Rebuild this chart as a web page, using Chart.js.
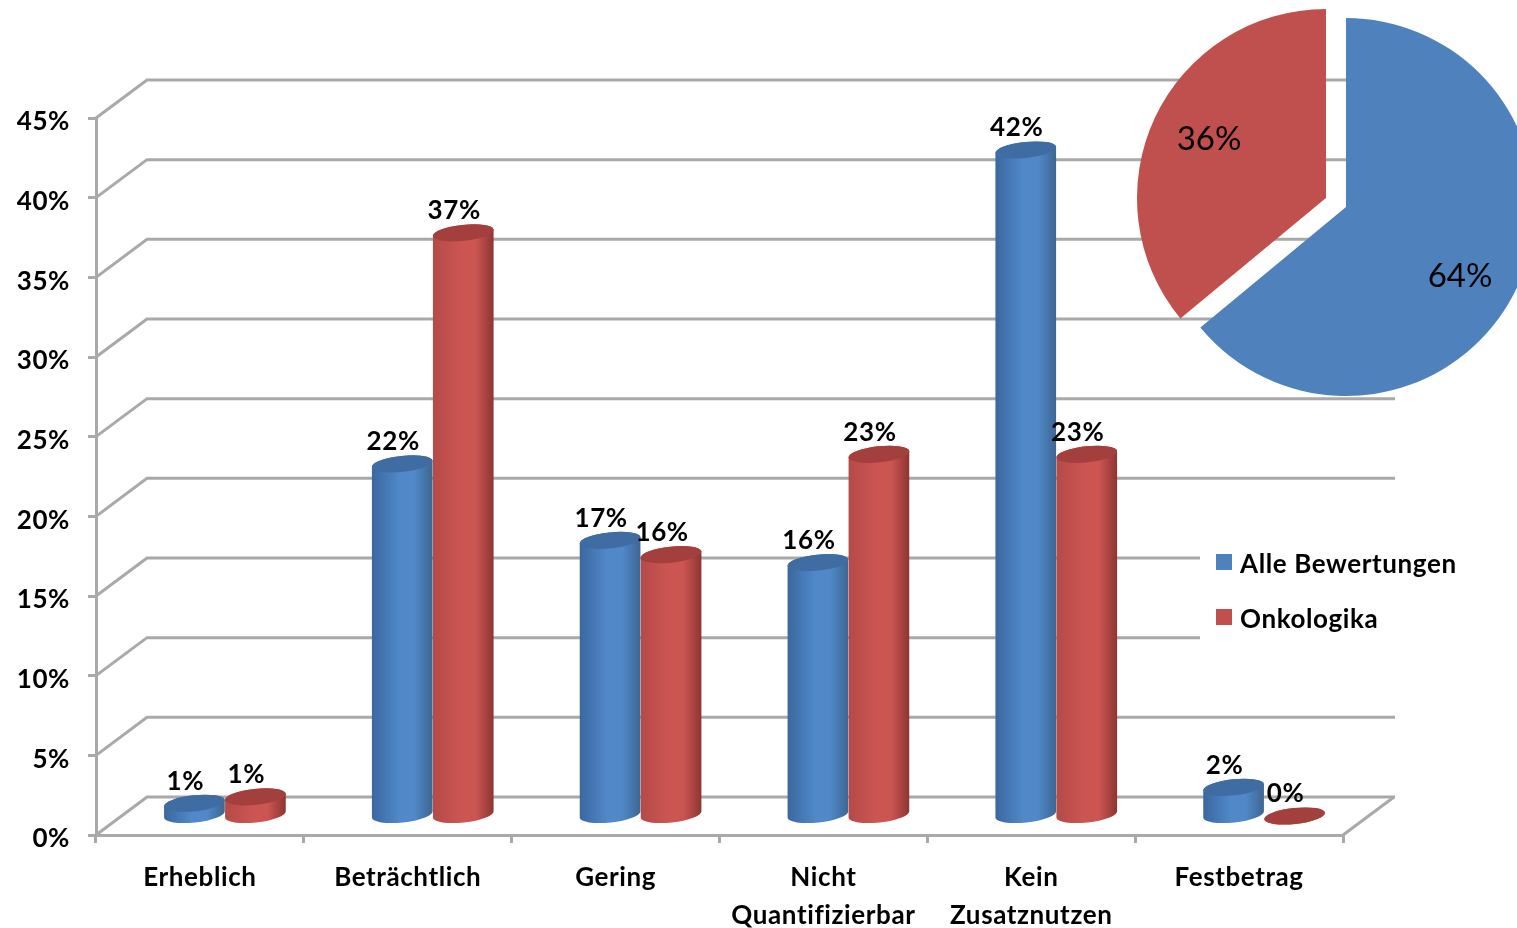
<!DOCTYPE html>
<html>
<head>
<meta charset="utf-8">
<script src="https://cdn.jsdelivr.net/npm/chart.js@4/dist/chart.umd.min.js"></script>
<style>
  html, body { margin: 0; padding: 0; background: #fff; overflow: hidden; }
  #wrap { position: relative; width: 1517px; height: 928px; overflow: hidden; filter: blur(0.5px); }
  #barChart { position: absolute; left: 0; top: 0; }
  #pieChart { position: absolute; left: 1120px; top: 0; }
</style>
</head>
<body>
<div id="wrap">
  <canvas id="barChart" width="1517" height="928"></canvas>
  <canvas id="pieChart" width="452" height="414"></canvas>
</div>
<script>
  // data block
  const categories = ['Erheblich', 'Beträchtlich', 'Gering', ['Nicht', 'Quantifizierbar'], ['Kein', 'Zusatznutzen'], 'Festbetrag'];
  const alleBewertungen = [0.8, 22.1, 17.3, 15.9, 41.8, 1.8];
  const onkologika = [1.2, 36.6, 16.4, 22.7, 22.7, 0];
  const seriesNames = ['Alle Bewertungen', 'Onkologika'];
  const pieLabels = ['Alle Bewertungen', 'Onkologika'];
  const pieValues = [64, 36];

  const BLUE = '#4f81bd';
  const RED = '#c0504d';
  const GRID = '#a9a9a9';
  const FONT = 'Lato, Carlito, sans-serif';

  // fake 3d depth of the old office chart
  const depth = { x: 51, y: -38 };
  const barShift = { x: 25, y: -19 };
  const capRy = 8;
  const capTilt = -6 * Math.PI / 180;

  const shades = {
    0: { left: '#3b679e', mid: '#5088c8', right: '#3d6692', cap: '#3f6ca3' },
    1: { left: '#b44a47', mid: '#cc5552', right: '#8c3533', cap: '#a33f3c' }
  };

  // back wall and floor lines
  const wallPlugin = {
    id: 'wall',
    beforeDatasetsDraw(chart) {
      const ctx = chart.ctx;
      const y = chart.scales.y;
      const x = chart.scales.x;
      ctx.save();
      ctx.strokeStyle = GRID;
      ctx.lineWidth = 3;
      y.ticks.forEach(function (t) {
        const py = y.getPixelForValue(t.value);
        ctx.beginPath();
        ctx.moveTo(x.left, py);
        ctx.lineTo(x.left + depth.x, py + depth.y);
        ctx.lineTo(x.right + depth.x + 1, py + depth.y);
        ctx.stroke();
      });
      const floor = y.getPixelForValue(0);
      ctx.beginPath();
      ctx.moveTo(x.right, floor);
      ctx.lineTo(x.right + depth.x, floor + depth.y);
      ctx.stroke();
      ctx.restore();
    }
  };

  // draws the bars as cylinders from the bar elements
  function drawCylinder(ctx, bar, shade) {
    const cx = bar.x + barShift.x;
    const top = bar.y + barShift.y;
    const bottom = bar.base + barShift.y;
    const rx = bar.width / 2;
    const grad = ctx.createLinearGradient(cx - rx, 0, cx + rx, 0);
    grad.addColorStop(0, shade.left);
    grad.addColorStop(0.45, shade.mid);
    grad.addColorStop(0.7, shade.mid);
    grad.addColorStop(1, shade.right);
    ctx.fillStyle = grad;
    ctx.beginPath();
    ctx.ellipse(cx, bottom, rx, capRy, capTilt, Math.PI, 0, true);
    ctx.ellipse(cx, top, rx, capRy, capTilt, 0, Math.PI, true);
    ctx.closePath();
    ctx.fill();
    ctx.fillStyle = shade.cap;
    ctx.beginPath();
    ctx.ellipse(cx, top, rx, capRy, capTilt, 0, Math.PI * 2);
    ctx.fill();
  }

  const cylinderPlugin = {
    id: 'cylinder',
    // the default bars are skipped, red has to lie over blue so all is drawn below
    beforeDatasetDraw() {
      return false;
    },
    afterDatasetsDraw(chart) {
      const ctx = chart.ctx;
      ctx.save();
      chart.data.datasets.forEach(function (ds, i) {
        chart.getDatasetMeta(i).data.forEach(function (bar) {
          drawCylinder(ctx, bar, shades[i]);
        });
      });

      ctx.font = 'bold 26px ' + FONT;
      ctx.fillStyle = '#000';
      ctx.textAlign = 'center';
      ctx.textBaseline = 'middle';
      chart.data.datasets.forEach(function (ds, i) {
        chart.getDatasetMeta(i).data.forEach(function (bar, j) {
          const label = Math.round(ds.data[j]) + '%';
          ctx.fillText(label, bar.x + barShift.x - 9, bar.y + barShift.y - 22);
        });
      });

      // legend, white box hides the wall lines behind it
      ctx.fillStyle = '#fff';
      ctx.fillRect(1200, 548, 317, 100);
      ctx.textAlign = 'left';
      chart.data.datasets.forEach(function (ds, i) {
        const rowY = 565 + i * 55;
        ctx.fillStyle = ds.backgroundColor;
        ctx.fillRect(1216, rowY - 11, 16, 16);
        ctx.fillStyle = '#000';
        ctx.fillText(ds.label, 1240, rowY);
      });
      ctx.restore();
    }
  };

  const barChart = new Chart(document.getElementById('barChart'), {
    type: 'bar',
    data: {
      labels: categories,
      datasets: [
        { label: seriesNames[0], data: alleBewertungen, backgroundColor: BLUE },
        { label: seriesNames[1], data: onkologika, backgroundColor: RED }
      ]
    },
    options: {
      responsive: false,
      animation: false,
      categoryPercentage: 0.587,
      barPercentage: 1,
      layout: { padding: { top: 118, right: 174, left: 0, bottom: 0 } },
      plugins: { legend: { display: false }, tooltip: { enabled: false } },
      scales: {
        x: {
          afterFit(s) { s.height = 93; },
          grid: { drawOnChartArea: false, color: GRID, lineWidth: 3, tickLength: 8 },
          border: { color: GRID, width: 3 },
          ticks: {
            color: '#000',
            padding: 16,
            autoSkip: false,
            maxRotation: 0,
            font: { family: FONT, size: 26, weight: 'bold', lineHeight: 1.46 }
          }
        },
        y: {
          min: 0,
          max: 45,
          afterFit(s) { s.width = 96; },
          grid: { drawOnChartArea: false, color: GRID, lineWidth: 3, tickLength: 8 },
          border: { color: GRID, width: 3 },
          ticks: {
            stepSize: 5,
            color: '#000',
            padding: 18,
            labelOffset: 4,
            font: { family: FONT, size: 26, weight: 'bold' },
            callback: function (v) { return v + '%'; }
          }
        }
      }
    },
    plugins: [wallPlugin, cylinderPlugin]
  });
  // text of the reference runs a bit wider than Lato
  barChart.ctx.letterSpacing = '0.6px';
  barChart.update();

  // slices are pulled apart by hand, chart.js offset also grows the radius
  const explode = [{ x: 0, y: 0 }, { x: -20, y: -9 }];
  const pieLabelPos = [{ x: 114, y: 68 }, { x: -117, y: -60 }];

  const explodePlugin = {
    id: 'explode',
    beforeDatasetDraw(chart, args) {
      const ctx = chart.ctx;
      args.meta.data.forEach(function (arc, i) {
        ctx.save();
        ctx.translate(explode[i].x, explode[i].y);
        arc.draw(ctx, chart.chartArea);
        ctx.restore();
      });
      return false;
    },
    afterDatasetsDraw(chart) {
      const ctx = chart.ctx;
      ctx.save();
      ctx.font = '33px ' + FONT;
      ctx.fillStyle = '#000';
      ctx.textAlign = 'center';
      ctx.textBaseline = 'middle';
      chart.getDatasetMeta(0).data.forEach(function (arc, i) {
        ctx.fillText(pieValues[i] + '%', arc.x + explode[i].x + pieLabelPos[i].x, arc.y + explode[i].y + pieLabelPos[i].y + 1);
      });
      ctx.restore();
    }
  };

  new Chart(document.getElementById('pieChart'), {
    type: 'pie',
    data: {
      labels: pieLabels,
      datasets: [{ data: pieValues, backgroundColor: [BLUE, RED], borderWidth: 0, radius: 189 }]
    },
    options: {
      responsive: false,
      animation: false,
      plugins: { legend: { display: false }, tooltip: { enabled: false } }
    },
    plugins: [explodePlugin]
  });
</script>
</body>
</html>
